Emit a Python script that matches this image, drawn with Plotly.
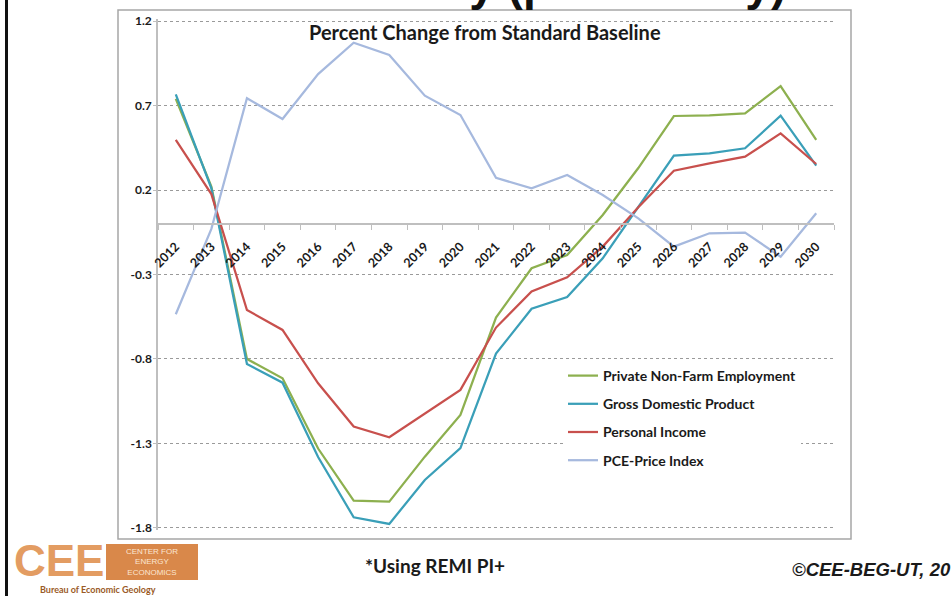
import plotly.graph_objects as go

# ---- data -------------------------------------------------------------
years = [str(y) for y in range(2012, 2031)]

employment = [0.74, 0.22, -0.80, -0.914, -1.33, -1.638, -1.644, -1.378, -1.131,
              -0.555, -0.263, -0.185, 0.052, 0.33, 0.638, 0.642, 0.654, 0.815, 0.496]
gdp = [0.766, 0.21, -0.83, -0.94, -1.38, -1.737, -1.776, -1.516, -1.328,
       -0.768, -0.503, -0.433, -0.204, 0.10, 0.403, 0.417, 0.447, 0.64, 0.344]
income = [0.496, 0.176, -0.51, -0.628, -0.944, -1.20, -1.263, -1.121, -0.983,
          -0.614, -0.40, -0.317, -0.135, 0.098, 0.314, 0.358, 0.397, 0.535, 0.354]
pce_price = [-0.535, -0.03, 0.743, 0.62, 0.886, 1.072, 0.999, 0.758, 0.644,
             0.272, 0.21, 0.289, 0.17, 0.032, -0.135, -0.056, -0.052, -0.195, 0.062]

series_names = ["Private Non-Farm Employment", "Gross Domestic Product",
                "Personal Income", "PCE-Price Index"]
series_values = [employment, gdp, income, pce_price]
series_colors = ["#8db04f", "#3a9fb8", "#c8504d", "#a6b9de"]

y_ticks = [1.2, 0.7, 0.2, -0.3, -0.8, -1.3, -1.8]
y_range = [-1.812, 1.212]

# ---- page geometry ----------------------------------------------------
W, H = 951, 596
M_L, M_R, M_T, M_B = 158, 117, 19, 66
TEXT = "#1a1a1a"
BODY_FONT = "Lato"


def px_x(x):
    return (x - M_L) / (W - M_L - M_R)


def px_y(y):
    return (H - M_B - y) / (H - M_T - M_B)


fig = go.Figure()
for name, vals, col in zip(series_names, series_values, series_colors):
    fig.add_trace(go.Scatter(
        x=years, y=vals, name=name, mode="lines", legendgroup=name,
        line=dict(color=col, width=2.25),
    ))

# slide decorations: frame edge, chart box, logo block
shapes = [
    dict(type="line", xref="paper", yref="paper",
         x0=px_x(6.5), x1=px_x(6.5), y0=px_y(0), y1=px_y(H),
         line=dict(color="#111111", width=3)),
    dict(type="rect", xref="paper", yref="paper", layer="below",
         x0=px_x(118), x1=px_x(851), y0=px_y(539), y1=px_y(10),
         fillcolor="white", line=dict(color="#a6a6a6", width=1.5)),
    dict(type="rect", xref="paper", yref="paper",
         x0=px_x(106), x1=px_x(198), y0=px_y(580), y1=px_y(544),
         fillcolor="#d9884a", line=dict(width=0)),
]


def note(text, x, y, size, color=TEXT, family=BODY_FONT, xanchor="center",
         weight="bold", style="normal"):
    return dict(text=text, xref="paper", yref="paper", x=px_x(x), y=px_y(y),
                xanchor=xanchor, yanchor="middle", showarrow=False,
                font=dict(family=family, size=size, color=color,
                          weight=weight, style=style))


annotations = [
    note("Texas Economy (preliminary)", 467, -16, 46, color="#111111",
         family="Liberation Sans"),
    note("Percent Change from Standard Baseline", 484.5, 32, 20),
    note("*Using REMI PI+", 435, 565, 19),
    note("©CEE-BEG-UT, 20", 790, 569, 18.5, family="Liberation Sans",
         xanchor="left", style="italic"),
    note("CEE", 59, 560, 44, color="#e39c62", family="Liberation Sans"),
    note("CENTER FOR<br>ENERGY<br>ECONOMICS", 152, 562, 8, color="#fbe6d2",
         family="Liberation Sans", weight="normal"),
    note("Bureau of Economic Geology", 98, 589, 9, color="#9a5a26"),
]

fig.update_layout(
    width=W, height=H, autosize=False,
    margin=dict(l=M_L, r=M_R, t=M_T, b=M_B, pad=0),
    paper_bgcolor="white", plot_bgcolor="rgba(0,0,0,0)",
    font=dict(family=BODY_FONT, color=TEXT),
    shapes=shapes, annotations=annotations,
    showlegend=True,
    legend=dict(
        x=px_x(563), y=px_y(360), xanchor="left", yanchor="top",
        bgcolor="white", borderwidth=0, tracegroupgap=7,
        traceorder="grouped",
        font=dict(family=BODY_FONT, size=14, color=TEXT, weight="bold"),
    ),
    xaxis=dict(
        type="category", categoryorder="array", categoryarray=years,
        range=[-0.5, len(years) - 0.5],
        anchor="free", position=(0 - y_range[0]) / (y_range[1] - y_range[0]),
        showline=True, linecolor="#bfbfbf", linewidth=1.5,
        ticks="outside", tickson="boundaries", ticklen=5, tickcolor="#bfbfbf",
        ticklabelstandoff=10,
        tickangle=-45, showgrid=False, zeroline=False,
        tickfont=dict(family=BODY_FONT, size=12.5, color=TEXT, weight="bold"),
    ),
    yaxis=dict(
        range=y_range, tickmode="array", tickvals=y_ticks,
        ticktext=[f"{v:.1f}" for v in y_ticks],
        showgrid=True, gridcolor="#9a9a9a", griddash="dot", gridwidth=1,
        showline=True, linecolor="#bfbfbf", linewidth=1.5,
        ticks="outside", ticklen=3, tickcolor="#bfbfbf", zeroline=False,
        ticklabelstandoff=-1,
        tickfont=dict(family=BODY_FONT, size=12, color=TEXT, weight="bold"),
    ),
)

fig.write_html("out.html")
